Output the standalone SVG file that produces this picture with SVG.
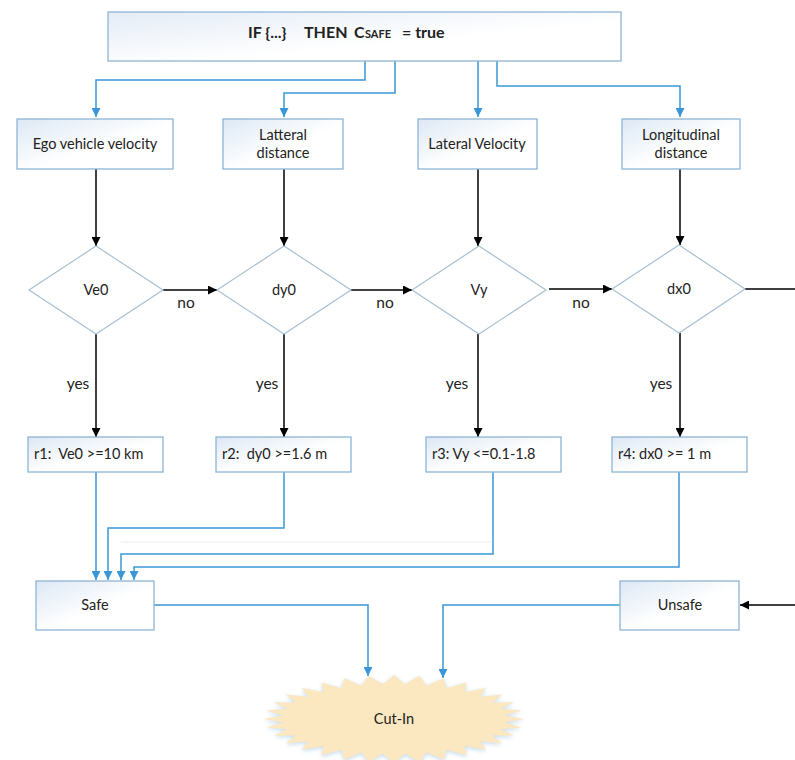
<svg xmlns="http://www.w3.org/2000/svg" width="795" height="760" viewBox="0 0 795 760">
  <defs>
    <linearGradient id="boxFill" x1="0" y1="0" x2="1" y2="1">
      <stop offset="0" stop-color="#dde8f4"/>
      <stop offset="0.55" stop-color="#ffffff"/>
      <stop offset="1" stop-color="#ffffff"/>
    </linearGradient>
    <linearGradient id="headFill" x1="0" y1="0" x2="1" y2="1">
      <stop offset="0" stop-color="#e4ecf6"/>
      <stop offset="0.6" stop-color="#ffffff"/>
      <stop offset="1" stop-color="#ffffff"/>
    </linearGradient>
    <filter id="glow" x="-10%" y="-20%" width="120%" height="140%">
      <feGaussianBlur stdDeviation="2.2"/>
    </filter>
    <marker id="arrowBlue" viewBox="0 0 10 10" refX="10" refY="5" markerUnits="userSpaceOnUse" markerWidth="9" markerHeight="9" orient="auto">
      <path d="M0,0 L10,5 L0,10 z" fill="#3a96d6"/>
    </marker>
    <marker id="arrowBlack" viewBox="0 0 10 10" refX="10" refY="5" markerUnits="userSpaceOnUse" markerWidth="10" markerHeight="9" orient="auto">
      <path d="M0,0 L10,5 L0,10 z" fill="#000"/>
    </marker>
    <polygon id="burst" points="524,719 505.46,722.43 521.50,727.58 501.18,729.16 514.10,735.84 492.78,735.50 502.09,743.45 480.58,741.20 485.92,750.11 465.05,746.06 466.22,755.58 446.80,749.87 443.75,759.65 426.51,752.49 419.36,762.15 404.98,753.83 394,763 383.02,753.83 368.64,762.15 361.49,752.49 344.25,759.65 341.20,749.87 321.78,755.58 322.95,746.06 302.08,750.11 307.42,741.20 285.91,743.45 295.22,735.50 273.90,735.84 286.82,729.16 266.50,727.58 282.54,722.43 264,719 282.54,715.57 266.50,710.42 286.82,708.84 273.90,702.16 295.22,702.50 285.91,694.55 307.42,696.80 302.08,687.89 322.95,691.94 321.78,682.42 341.20,688.13 344.25,678.35 361.49,685.51 368.64,675.85 383.02,684.17 394,675 404.98,684.17 419.36,675.85 426.51,685.51 443.75,678.35 446.80,688.13 466.22,682.42 465.05,691.94 485.92,687.89 480.58,696.80 502.09,694.55 492.78,702.50 514.10,702.16 501.18,708.84 521.50,710.42 505.46,715.57"/>
  </defs>
  <style>
    .box { fill: url(#boxFill); stroke: #8fb4d4; stroke-width: 1.3; }
    .head { fill: url(#headFill); stroke: #8fb4d4; stroke-width: 1.3; }
    .dia { fill: #ffffff; stroke: #a7bfd3; stroke-width: 1.2; }
    .t { font-family: Lato, "Liberation Sans", sans-serif; font-size: 14.5px; fill: #222; }
    .lbl { font-size: 15.5px; }
    .c { text-anchor: middle; }
    .b { font-weight: bold; font-size: 16px; }
    .blue { fill: none; stroke: #3a96d6; stroke-width: 1.5; marker-end: url(#arrowBlue); }
    .blk { fill: none; stroke: #000; stroke-width: 1.5; marker-end: url(#arrowBlack); }
    .plain { fill: none; stroke: #000; stroke-width: 1.5; }
  </style>

  <rect width="795" height="760" fill="#ffffff"/>

  <!-- connectors -->
  <g id="connectors">
    <!-- rule header to the four inputs -->
    <path class="blue" d="M365,61 V80 H96 V117"/>
    <path class="blue" d="M395,61 V93 H284 V117"/>
    <path class="blue" d="M478,61 V117"/>
    <path class="blue" d="M497,61 V86 H680 V117"/>
    <!-- inputs to decisions -->
    <path class="blk" d="M96,169 V246"/>
    <path class="blk" d="M284,169 V246"/>
    <path class="blk" d="M478,169 V246"/>
    <path class="blk" d="M680,169 V245"/>
    <!-- "no" chain -->
    <path class="blk" d="M163,290 H217"/>
    <path class="blk" d="M351,290 H412"/>
    <path class="blk" d="M549,289 H612"/>
    <path class="plain" d="M745,289 H795"/>
    <path class="blk" d="M795,605 H740"/>
    <!-- "yes" branches -->
    <path class="blk" d="M96,334 V437"/>
    <path class="blk" d="M284,334 V437"/>
    <path class="blk" d="M478,334 V437"/>
    <path class="blk" d="M680,333 V437"/>
    <!-- rules to Safe -->
    <path d="M121,542 H491" fill="none" stroke="#e8edf1" stroke-width="1"/>
    <path class="blue" d="M96,472 V580"/>
    <path class="blue" d="M284,472 V528 H108 V580"/>
    <path class="blue" d="M493,472 V554 H121 V580"/>
    <path class="blue" d="M679,472 V567 H134 V580"/>
    <!-- outcomes to Cut-In -->
    <path class="blue" d="M154,605 H368 V676"/>
    <path class="blue" d="M620,605 H443 V678"/>
  </g>

  <g id="rule-header">
    <rect class="head" x="108" y="12" width="513" height="49"/>
    <text class="t b" y="38"><tspan x="248">IF {...}</tspan><tspan x="304">THEN</tspan><tspan x="354">C</tspan><tspan x="365" font-size="11">SAFE</tspan><tspan x="402">= true</tspan></text>
  </g>

  <g id="ego-velocity">
    <rect class="box" x="17" y="119" width="156" height="50"/>
    <text class="t c" x="95" y="149">Ego vehicle velocity</text>
  </g>
  <g id="lateral-distance">
    <rect class="box" x="223" y="119" width="120" height="50"/>
    <text class="t c" x="283" y="140">Latteral</text>
    <text class="t c" x="283" y="158">distance</text>
  </g>
  <g id="lateral-velocity">
    <rect class="box" x="418" y="119" width="119" height="50"/>
    <text class="t c" x="477" y="149">Lateral Velocity</text>
  </g>
  <g id="longitudinal-distance">
    <rect class="box" x="622" y="119" width="118" height="50"/>
    <text class="t c" x="681" y="140">Longitudinal</text>
    <text class="t c" x="681" y="158">distance</text>
  </g>

  <g id="dec-ve0">
    <polygon class="dia" points="96,246 163,290 96,334 29,290"/>
    <text class="t c" x="96" y="295">Ve0</text>
  </g>
  <g id="dec-dy0">
    <polygon class="dia" points="284,246 351,290 284,334 217,290"/>
    <text class="t c" x="284" y="295">dy0</text>
  </g>
  <g id="dec-vy">
    <polygon class="dia" points="479,246 546,290 479,334 412,290"/>
    <text class="t c" x="479" y="295">Vy</text>
  </g>
  <g id="dec-dx0">
    <polygon class="dia" points="679,245 745,289 679,333 612,289"/>
    <text class="t c" x="679" y="294">dx0</text>
  </g>

  <g id="edge-labels">
    <text class="t lbl c" x="186" y="308">no</text>
    <text class="t lbl c" x="385" y="308">no</text>
    <text class="t lbl c" x="581" y="308">no</text>
    <text class="t lbl c" x="78" y="389">yes</text>
    <text class="t lbl c" x="267" y="389">yes</text>
    <text class="t lbl c" x="457" y="389">yes</text>
    <text class="t lbl c" x="661" y="389">yes</text>
  </g>

  <g id="rule-r1">
    <rect class="box" x="28" y="437" width="135" height="35"/>
    <text class="t" x="34" y="459" xml:space="preserve">r1:  Ve0 &gt;=10 km</text>
  </g>
  <g id="rule-r2">
    <rect class="box" x="216" y="437" width="135" height="35"/>
    <text class="t" x="222" y="459" xml:space="preserve">r2:  dy0 &gt;=1.6 m</text>
  </g>
  <g id="rule-r3">
    <rect class="box" x="426" y="437" width="135" height="35"/>
    <text class="t" x="432" y="459">r3: Vy &lt;=0.1-1.8</text>
  </g>
  <g id="rule-r4">
    <rect class="box" x="612" y="437" width="135" height="35"/>
    <text class="t" x="618" y="459">r4: dx0 &gt;= 1 m</text>
  </g>

  <g id="safe">
    <rect class="box" x="36" y="581" width="118" height="49"/>
    <text class="t c" x="95" y="610">Safe</text>
  </g>
  <g id="unsafe">
    <rect class="box" x="620" y="581" width="119" height="49"/>
    <text class="t c" x="680" y="610">Unsafe</text>
  </g>

  <g id="cut-in">
    <use href="#burst" fill="#aecde8" opacity="0.7" filter="url(#glow)" transform="translate(0,1.5)"/>
    <use href="#burst" fill="#fbe7c0"/>
    <text class="t c" x="394" y="724">Cut-In</text>
  </g>
</svg>
